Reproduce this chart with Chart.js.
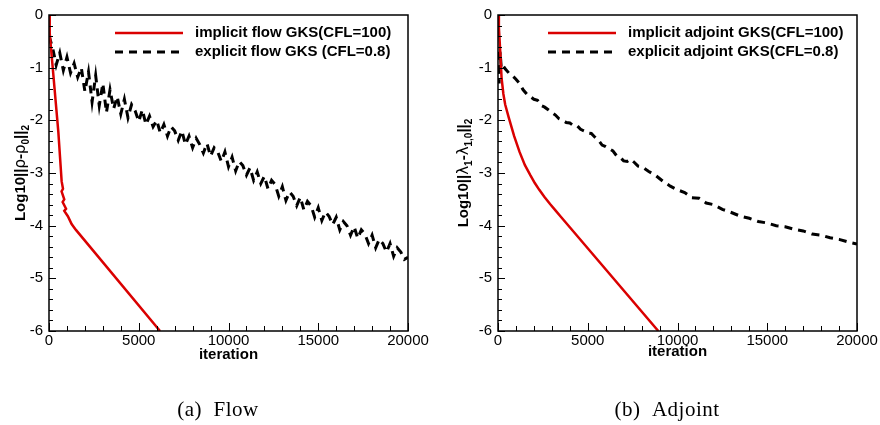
<!DOCTYPE html>
<html>
<head>
<meta charset="utf-8">
<script src="https://cdn.jsdelivr.net/npm/chart.js@4/dist/chart.umd.min.js"></script>
<style>
  html, body { margin: 0; padding: 0; background: #fff; }
  #wrap { position: relative; width: 880px; height: 425px; }
  canvas { position: absolute; top: 0; }
</style>
</head>
<body>
<div id="wrap">
  <canvas id="chart-flow" width="440" height="425" style="left:0"></canvas>
  <canvas id="chart-adjoint" width="440" height="425" style="left:440px"></canvas>
</div>
<script>
// ---- data (x = iteration, y = log10 residual) ----
const flowImplicitIter = [0, 40, 520, 705, 780, 700, 850, 760, 950, 850, 1050, 1260, 1500, 6185];
const flowImplicitRes  = [0, -0.35, -2.22, -3.16, -3.3, -3.35, -3.5, -3.55, -3.68, -3.72, -3.82, -3.97, -4.08, -6.0];

const flowExplicitIter = [
  0, 200, 400, 600, 800, 1000, 1200, 1400, 1600, 1800,
  2000, 2200, 2400, 2600, 2800, 3000, 3200, 3400, 3600, 3800,
  4000, 4200, 4400, 4600, 4800, 5000, 5200, 5400, 5600, 5800,
  6000, 6200, 6400, 6600, 6800, 7000, 7200, 7400, 7600, 7800,
  8000, 8200, 8400, 8600, 8800, 9000, 9200, 9400, 9600, 9800,
  10000, 10200, 10400, 10600, 10800, 11000, 11200, 11400, 11600, 11800,
  12000, 12200, 12400, 12600, 12800, 13000, 13200, 13400, 13600, 13800,
  14000, 14200, 14400, 14600, 14800, 15000, 15200, 15400, 15600, 15800,
  16000, 16200, 16400, 16600, 16800, 17000, 17200, 17400, 17600, 17800,
  18000, 18200, 18400, 18600, 18800, 19000, 19200, 19400, 19600, 19800,
  20000
];
const flowExplicitRes = [
  -0.4, -0.62, -0.95, -0.72, -1.05, -0.8, -1.1, -0.92, -1.18, -1.0,
  -1.45, -1.08, -1.65, -1.15, -1.72, -1.3, -1.85, -1.42, -1.78, -1.55,
  -1.88, -1.6, -1.95, -1.7, -1.82, -2.02, -1.8, -2.08, -1.92, -2.12,
  -2.0, -2.24, -2.08, -2.3, -2.12, -2.2, -2.38, -2.2, -2.46, -2.3,
  -2.52, -2.34, -2.46, -2.62, -2.44, -2.68, -2.52, -2.6, -2.78, -2.6,
  -2.88, -2.7, -2.96, -2.78, -2.86, -3.04, -2.9, -3.14, -2.98, -3.2,
  -3.06, -3.3, -3.14, -3.22, -3.44, -3.26, -3.52, -3.36, -3.44, -3.62,
  -3.46, -3.7, -3.54, -3.62, -3.84, -3.66, -3.9, -3.74, -3.82, -3.98,
  -3.84, -4.08, -3.92, -4.0, -4.18, -4.02, -4.24, -4.08, -4.16, -4.34,
  -4.18, -4.42, -4.26, -4.34, -4.5, -4.34, -4.58, -4.42, -4.5, -4.64,
  -4.6
];

const adjImplicitIter = [0, 50, 110, 200, 300, 400, 600, 900, 1200, 1500, 1800, 2050, 2300, 2600, 2900, 3200, 3500, 4000, 8930];
const adjImplicitRes  = [0, -0.25, -0.6, -1.2, -1.5, -1.7, -1.95, -2.3, -2.6, -2.85, -3.04, -3.19, -3.32, -3.46, -3.59, -3.71, -3.83, -4.03, -6.0];

const adjExplicitIter = [
  0, 60, 120, 180, 260, 400, 600, 800, 1000, 1200,
  1400, 1600, 1800, 2000, 2200, 2400, 2600, 2800, 3000, 3200,
  3400, 3600, 3800, 4000, 4200, 4400, 4600, 4800, 5000, 5200,
  5400, 5600, 5800, 6000, 6200, 6400, 6600, 6800, 7000, 7200,
  7400, 7600, 7800, 8000, 8400, 8800, 9200, 9600, 10000, 10400,
  10800, 11200, 11600, 12000, 12500, 13000, 13500, 14000, 14500, 15000,
  15500, 16000, 16500, 17000, 17500, 18000, 18500, 19000, 19500, 20000
];
const adjExplicitRes = [
  -0.7, -1.3, -0.7, -1.0, -0.95, -1.02, -1.1, -1.15, -1.22, -1.3,
  -1.42, -1.5, -1.55, -1.6, -1.62, -1.72, -1.75, -1.8, -1.85, -1.9,
  -1.97, -2.0, -2.04, -2.05, -2.1, -2.1, -2.17, -2.2, -2.24, -2.25,
  -2.32, -2.38, -2.47, -2.5, -2.54, -2.58, -2.67, -2.7, -2.77, -2.78,
  -2.74, -2.8, -2.87, -2.88, -2.97, -3.05, -3.16, -3.25, -3.32, -3.37,
  -3.47, -3.48, -3.57, -3.6, -3.69, -3.75, -3.82, -3.86, -3.92, -3.95,
  -4.0, -4.02, -4.07, -4.1, -4.16, -4.18, -4.23, -4.26, -4.31, -4.35
];

const xTickStep = 5000;
const yTickStep = 1;

const SANS = '"Liberation Sans", Arial, sans-serif';
const RED = 'rgb(218,0,0)';

function pts(xs, ys) {
  return xs.map((x, i) => ({ x: x, y: ys[i] }));
}

// draws a rotated string made of several styled parts (for sub-scripts)
function drawRotated(ctx, parts, cx, cy) {
  ctx.save();
  ctx.translate(cx, cy);
  ctx.rotate(-Math.PI / 2);
  ctx.textBaseline = 'alphabetic';
  let w = 0;
  parts.forEach(p => { ctx.font = p.font; p.w = ctx.measureText(p.text).width; w += p.w; });
  let xx = -w / 2;
  parts.forEach(p => {
    ctx.font = p.font;
    ctx.fillText(p.text, xx, 5 + (p.dy || 0));
    xx += p.w;
  });
  ctx.restore();
}

const decoPlugin = {
  id: 'deco',
  afterDraw(chart, args, o) {
    const { ctx, chartArea: a } = chart;
    const x = chart.scales.x, y = chart.scales.y;
    ctx.save();
    ctx.strokeStyle = '#000';
    ctx.fillStyle = '#000';

    // inward ticks: major + minor
    ctx.lineWidth = 1;
    ctx.beginPath();
    for (let v = x.min; v <= x.max; v += 1000) {
      const px = Math.round(x.getPixelForValue(v)) + 0.5;
      const len = v % xTickStep === 0 ? 8 : 5;
      ctx.moveTo(px, a.bottom);
      ctx.lineTo(px, a.bottom - len);
    }
    for (let k = 0; k <= 30; k++) {
      const py = Math.round(y.getPixelForValue(y.min + k * 0.2)) + 0.5;
      const len = k % 5 === 0 ? 7 : 4;
      ctx.moveTo(a.left, py);
      ctx.lineTo(a.left + len, py);
    }
    ctx.stroke();

    // frame
    ctx.lineWidth = 1.5;
    ctx.strokeRect(a.left, a.top, a.right - a.left, a.bottom - a.top);

    // legend
    chart.data.datasets.forEach((ds, i) => {
      const ly = o.legendRows[i];
      ctx.beginPath();
      ctx.strokeStyle = ds.borderColor;
      ctx.lineWidth = ds.borderWidth;
      ctx.setLineDash(ds.borderDash || []);
      ctx.moveTo(o.legendLine[0], ly);
      ctx.lineTo(o.legendLine[1], ly);
      ctx.stroke();
      ctx.setLineDash([]);
      ctx.font = 'bold 15px ' + SANS;
      ctx.textBaseline = 'middle';
      ctx.textAlign = 'left';
      ctx.fillText(ds.label, o.legendText, ly);
    });

    // x title
    ctx.font = 'bold 15px ' + SANS;
    ctx.textAlign = 'center';
    ctx.textBaseline = 'middle';
    ctx.fillText('iteration', (a.left + a.right) / 2, o.xTitleY);

    // caption
    ctx.font = '21px "Liberation Serif", "DejaVu Serif", serif';
    ctx.letterSpacing = '0.5px';
    ctx.fillText(o.caption, o.captionX, 410);
    ctx.letterSpacing = '0px';

    // y title
    ctx.textAlign = 'left';
    drawRotated(ctx, o.yTitle, o.yTitleX, (a.top + a.bottom) / 2);
    ctx.restore();
  }
};

function makeChart(id, datasets, area, deco) {
  const canvas = document.getElementById(id);
  return new Chart(canvas, {
    type: 'line',
    data: { datasets: datasets },
    options: {
      responsive: false,
      animation: false,
      devicePixelRatio: 1,
      layout: { padding: { left: 0, top: area.top, right: area.right, bottom: area.bottom } },
      elements: { point: { radius: 0 }, line: { tension: 0 } },
      plugins: { legend: { display: false }, tooltip: { enabled: false }, deco: deco },
      scales: {
        x: {
          type: 'linear', min: 0, max: 20000,
          grid: { display: false, drawTicks: false },
          border: { display: false },
          ticks: {
            stepSize: xTickStep, autoSkip: false, maxRotation: 0, padding: 1, color: '#000',
            font: { family: SANS, size: 15 }, callback: v => String(v)
          },
          afterFit: s => { s.height = 30; }
        },
        y: {
          type: 'linear', min: -6, max: 0,
          grid: { display: false, drawTicks: false },
          border: { display: false },
          ticks: {
            stepSize: yTickStep, padding: 6, color: '#000',
            font: { family: SANS, size: 15 }, callback: v => String(v)
          },
          afterFit: s => { s.width = area.left; }
        }
      }
    },
    plugins: [decoPlugin]
  });
}

const B15 = 'bold 15px ' + SANS;
const G15 = '15px "DejaVu Sans", sans-serif';
const S10 = 'bold 10px ' + SANS;

makeChart('chart-flow', [
  { label: 'implicit flow GKS(CFL=100)', data: pts(flowImplicitIter, flowImplicitRes), borderColor: RED, borderWidth: 2.5 },
  { label: 'explicit flow GKS (CFL=0.8)', data: pts(flowExplicitIter, flowExplicitRes), borderColor: '#000', borderWidth: 3, borderDash: [8, 6] }
], { left: 49, top: 12, right: 32, bottom: 64 }, {
  legendRows: [33, 52], legendLine: [115, 183], legendText: 195,
  xTitleY: 355, caption: '(a)  Flow', captionX: 218, yTitleX: 20,
  yTitle: [
    { text: 'Log10||', font: B15 }, { text: '\u03c1', font: G15 }, { text: '-', font: B15 },
    { text: '\u03c1', font: G15 }, { text: '0', font: S10, dy: 4 }, { text: '||', font: B15 },
    { text: '2', font: S10, dy: 4 }
  ]
});

makeChart('chart-adjoint', [
  { label: 'implicit adjoint GKS(CFL=100)', data: pts(adjImplicitIter, adjImplicitRes), borderColor: RED, borderWidth: 2.5 },
  { label: 'explicit adjoint GKS(CFL=0.8)', data: pts(adjExplicitIter, adjExplicitRes), borderColor: '#000', borderWidth: 3, borderDash: [8, 6] }
], { left: 58, top: 12, right: 23, bottom: 64 }, {
  legendRows: [33, 52], legendLine: [108, 176], legendText: 188,
  xTitleY: 352, caption: '(b)  Adjoint', captionX: 227, yTitleX: 23,
  yTitle: [
    { text: 'Log10||', font: B15 }, { text: '\u03bb', font: G15 }, { text: '1', font: S10, dy: 4 },
    { text: '-', font: B15 }, { text: '\u03bb', font: G15 }, { text: '1,0', font: S10, dy: 4 },
    { text: '||', font: B15 }, { text: '2', font: S10, dy: 4 }
  ]
});
</script>
</body>
</html>
